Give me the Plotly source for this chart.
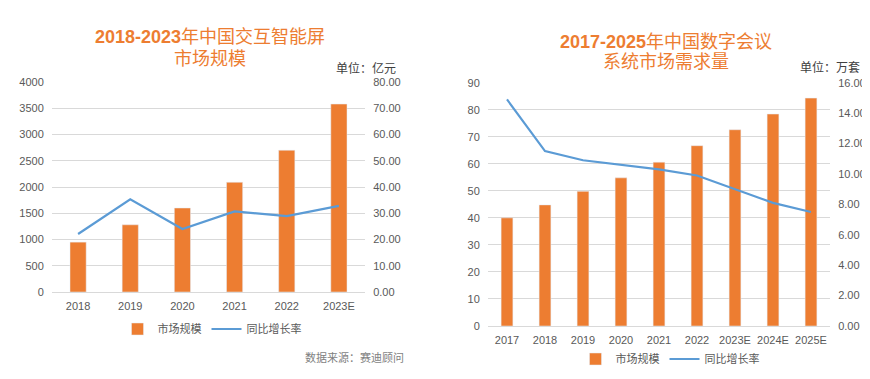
import plotly.graph_objects as go

# Left chart data
years_l = ["2018", "2019", "2020", "2021", "2022", "2023E"]
market_l = [950, 1280, 1600, 2090, 2700, 3580]
growth_l = [22.1, 35.3, 24.0, 30.7, 28.9, 32.8]

# Right chart data
years_r = ["2017", "2018", "2019", "2020", "2021", "2022", "2023E", "2024E", "2025E"]
market_r = [40.0, 44.8, 49.8, 54.8, 60.6, 66.7, 72.6, 78.4, 84.3]
growth_r = [14.9, 11.5, 10.9, 10.6, 10.3, 9.9, 9.0, 8.1, 7.5]

ORANGE = "#ED7D31"
BLUE = "#5B9BD5"
GRID = "#D9D9D9"
TXT = "#595959"
FONT = "Liberation Sans, Arial, Noto Sans CJK SC, sans-serif"
OFF = 8  # default page body margin
W, H = 870 - OFF, 379 - OFF

def px_x(x):
    return (x - OFF) / W

def px_y(y):
    return (H - (y - OFF)) / H

fig = go.Figure()
fig.add_trace(go.Bar(x=years_l, y=market_l, name="市场规模", marker_color=ORANGE,
                     xaxis="x", yaxis="y", legend="legend"))
fig.add_trace(go.Scatter(x=years_l, y=growth_l, name="同比增长率", mode="lines",
                         line=dict(color=BLUE, width=2.2), xaxis="x", yaxis="y2", legend="legend"))
fig.add_trace(go.Bar(x=years_r, y=market_r, name="市场规模", marker_color=ORANGE,
                     xaxis="x2", yaxis="y3", legend="legend2"))
fig.add_trace(go.Scatter(x=years_r, y=growth_r, name="同比增长率", mode="lines",
                         line=dict(color=BLUE, width=2.2), xaxis="x2", yaxis="y4", legend="legend2"))

tickfont = dict(family=FONT, size=11, color=TXT)
hide = "rgba(0,0,0,0)"
legfont = dict(family=FONT, size=11, color=TXT)

fig.update_layout(
    width=W, height=H,
    margin=dict(l=0, r=0, t=0, b=0),
    paper_bgcolor="white", plot_bgcolor="white",
    bargap=0.69,
    font=dict(family=FONT, color=TXT),
    xaxis=dict(domain=[px_x(52), px_x(365)], anchor="y", showgrid=False, automargin=False,
               showline=True, linecolor=GRID, tickfont=tickfont, ticks="outside", ticklen=4,
               tickcolor=hide),
    yaxis=dict(domain=[px_y(292), px_y(82)], anchor="x", range=[0, 4000], dtick=500,
               gridcolor=GRID, tickfont=tickfont, zeroline=False, ticks="outside", automargin=False,
               ticklen=5, tickcolor=hide),
    yaxis2=dict(overlaying="y", side="right", anchor="x", range=[0, 80], dtick=10,
                tickformat=".2f", showgrid=False, tickfont=tickfont, zeroline=False, automargin=False,
                ticks="outside", ticklen=5, tickcolor=hide),
    xaxis2=dict(domain=[px_x(488), px_x(830)], anchor="y3", showgrid=False, automargin=False,
                showline=True, linecolor=GRID, tickfont=tickfont, ticks="outside", ticklen=4,
                tickcolor=hide),
    yaxis3=dict(domain=[px_y(326), px_y(82.7)], anchor="x2", range=[0, 90], dtick=10,
                gridcolor=GRID, tickfont=tickfont, zeroline=False, ticks="outside", automargin=False,
                ticklen=5, tickcolor=hide),
    yaxis4=dict(overlaying="y3", side="right", anchor="x2", range=[0, 16], dtick=2,
                tickformat=".2f", showgrid=False, tickfont=tickfont, zeroline=False, automargin=False,
                ticks="outside", ticklen=5, tickcolor=hide),
    legend=dict(orientation="h", x=px_x(212), y=px_y(329), xanchor="center", yanchor="middle",
                font=legfont, bgcolor="rgba(0,0,0,0)", itemwidth=30, tracegroupgap=0),
    legend2=dict(orientation="h", x=px_x(670), y=px_y(359), xanchor="center", yanchor="middle",
                 font=legfont, bgcolor="rgba(0,0,0,0)", itemwidth=30, tracegroupgap=0),
    showlegend=True,
)

title_font = dict(family=FONT, size=18, color=ORANGE)
annots = [
    dict(text="<b>2018-2023</b>年中国交互智能屏", x=px_x(210), y=px_y(37), font=title_font),
    dict(text="市场规模", x=px_x(210), y=px_y(59), font=title_font),
    dict(text="<b>2017-2025</b>年中国数字会议", x=px_x(666), y=px_y(42), font=title_font),
    dict(text="系统市场需求量", x=px_x(666), y=px_y(62), font=title_font),
    dict(text="单位：亿元", x=px_x(366), y=px_y(68), font=dict(family=FONT, size=12, color="#404040")),
    dict(text="单位：万套", x=px_x(830), y=px_y(67), font=dict(family=FONT, size=12, color="#404040")),
    dict(text="数据来源：赛迪顾问", x=px_x(354), y=px_y(357), font=dict(family=FONT, size=11, color="#7F7F7F")),
]
for a in annots:
    fig.add_annotation(xref="paper", yref="paper", showarrow=False, xanchor="center",
                       yanchor="middle", **a)

fig.write_html("out.html")
